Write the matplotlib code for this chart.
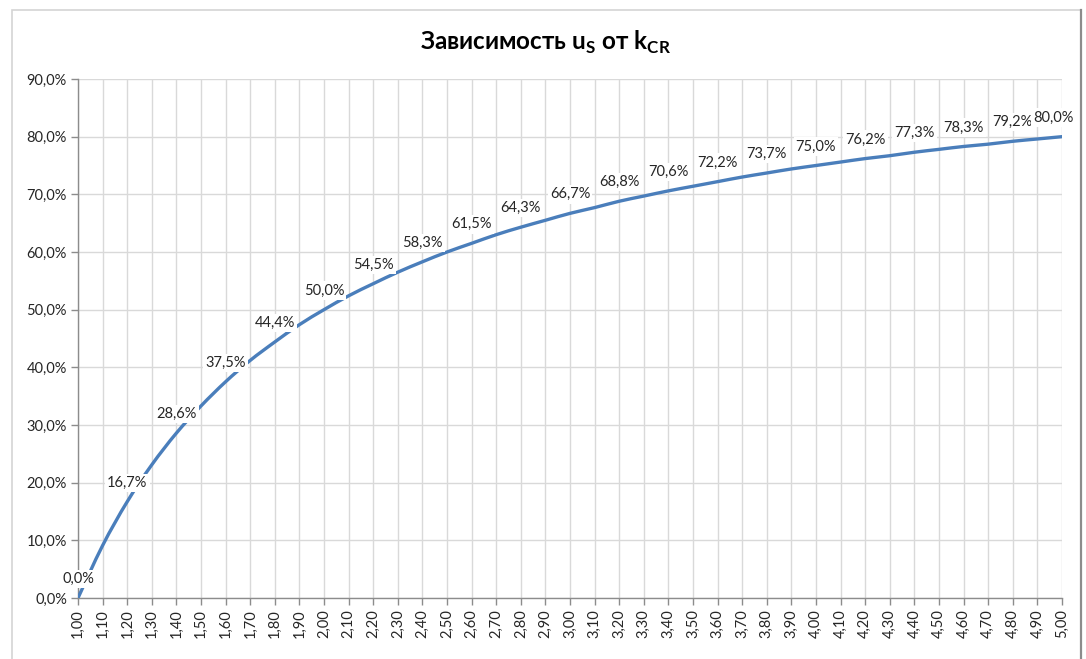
import matplotlib
matplotlib.use("Agg")
import matplotlib.pyplot as plt
from matplotlib.patches import Rectangle, PathPatch
from matplotlib.path import Path
from matplotlib.ticker import FuncFormatter, MultipleLocator

plt.rcParams['font.family'] = ['Lato', 'DejaVu Sans']
plt.rcParams['mathtext.fontset'] = 'custom'
plt.rcParams['mathtext.rm'] = 'Lato:bold'
plt.rcParams['mathtext.bf'] = 'Lato:bold'

# Data
k_values = [1.0, 1.1, 1.2, 1.3, 1.4, 1.5, 1.6, 1.7, 1.8, 1.9,
            2.0, 2.1, 2.2, 2.3, 2.4, 2.5, 2.6, 2.7, 2.8, 2.9,
            3.0, 3.1, 3.2, 3.3, 3.4, 3.5, 3.6, 3.7, 3.8, 3.9,
            4.0, 4.1, 4.2, 4.3, 4.4, 4.5, 4.6, 4.7, 4.8, 4.9, 5.0]
u_values = [0.000, 0.091, 0.167, 0.231, 0.286, 0.333, 0.375, 0.412, 0.444, 0.474,
            0.500, 0.524, 0.545, 0.565, 0.583, 0.600, 0.615, 0.630, 0.643, 0.655,
            0.667, 0.677, 0.688, 0.697, 0.706, 0.714, 0.722, 0.730, 0.737, 0.744,
            0.750, 0.756, 0.762, 0.767, 0.773, 0.778, 0.783, 0.787, 0.792, 0.796, 0.800]
x_tick_labels = [("%.2f" % k).replace('.', ',') for k in k_values]

W, H = 1086, 659
fig = plt.figure(figsize=(W / 100, H / 100), dpi=100)
fig.patch.set_facecolor('white')

# chart-area border
border = Rectangle((12 / W, -0.05), (1081 - 12) / W, (1 - 10 / H) + 0.05,
                   transform=fig.transFigure, fill=False, edgecolor='#d4d4d4', lw=1.2)
fig.patches.append(border)
fig.add_artist(plt.Line2D([1081 / W, 1081 / W], [0, 1 - 10 / H], transform=fig.transFigure,
                          color='#8c8c8c', lw=1.6))

left, right, top, bottom = 78, 1062, 79, 598
ax = fig.add_axes([left / W, 1 - bottom / H, (right - left) / W, (bottom - top) / H])

# smoothed line (Catmull-Rom -> cubic Bezier through the data points)
verts = [(k_values[0], u_values[0])]
codes = [Path.MOVETO]
n = len(k_values)
for i in range(n - 1):
    p0 = (k_values[max(i - 1, 0)], u_values[max(i - 1, 0)])
    p1 = (k_values[i], u_values[i])
    p2 = (k_values[i + 1], u_values[i + 1])
    p3 = (k_values[min(i + 2, n - 1)], u_values[min(i + 2, n - 1)])
    c1 = (p1[0] + (p2[0] - p0[0]) / 6, p1[1] + (p2[1] - p0[1]) / 6)
    c2 = (p2[0] - (p3[0] - p1[0]) / 6, p2[1] - (p3[1] - p1[1]) / 6)
    verts += [c1, c2, p2]
    codes += [Path.CURVE4] * 3
ax.add_patch(PathPatch(Path(verts, codes), fill=False, edgecolor='#4A7EBB', lw=2.4,
                       capstyle='round', zorder=3))

ax.set_xlim(k_values[0], k_values[-1])
ax.set_ylim(0, 0.9)
ax.set_xticks(k_values)
ax.set_xticklabels(x_tick_labels, rotation=90)
ax.yaxis.set_major_locator(MultipleLocator(0.1))
ax.yaxis.set_major_formatter(FuncFormatter(lambda v, p: ("%.1f%%" % (v * 100)).replace('.', ',')))

ax.grid(True, color='#d9d9d9', lw=1.0, zorder=0)
ax.set_axisbelow(True)
for s in ['top', 'right']:
    ax.spines[s].set_visible(False)
for s in ['left', 'bottom']:
    ax.spines[s].set_color('#8c8c8c')
    ax.spines[s].set_linewidth(1.0)
ax.tick_params(axis='both', colors='#8c8c8c', length=5, width=1.0, labelcolor='#262626',
               labelsize=10.5)
ax.tick_params(axis='y', pad=3)
ax.tick_params(axis='x', pad=3)

# data labels at every other point
for i in range(0, len(k_values), 2):
    txt = ("%.1f%%" % (u_values[i] * 100)).replace('.', ',')
    last = i == len(k_values) - 1
    ax.annotate(txt, (k_values[i], u_values[i]),
                xytext=(12 if last else 0, 19), textcoords='offset pixels',
                ha='right' if last else 'center', va='center', fontsize=10.5, color='#262626',
                bbox=dict(boxstyle='square,pad=0.15', fc='white', ec='none'),
                zorder=4, annotation_clip=False)

fig.text(546 / W, 1 - 42 / H, r"Зависимость u$_\mathrm{S}$ от k$_\mathrm{CR}$",
         ha='center', va='center', fontsize=17.5, fontweight='bold', color='black')

fig.savefig('out.png', dpi=100)
